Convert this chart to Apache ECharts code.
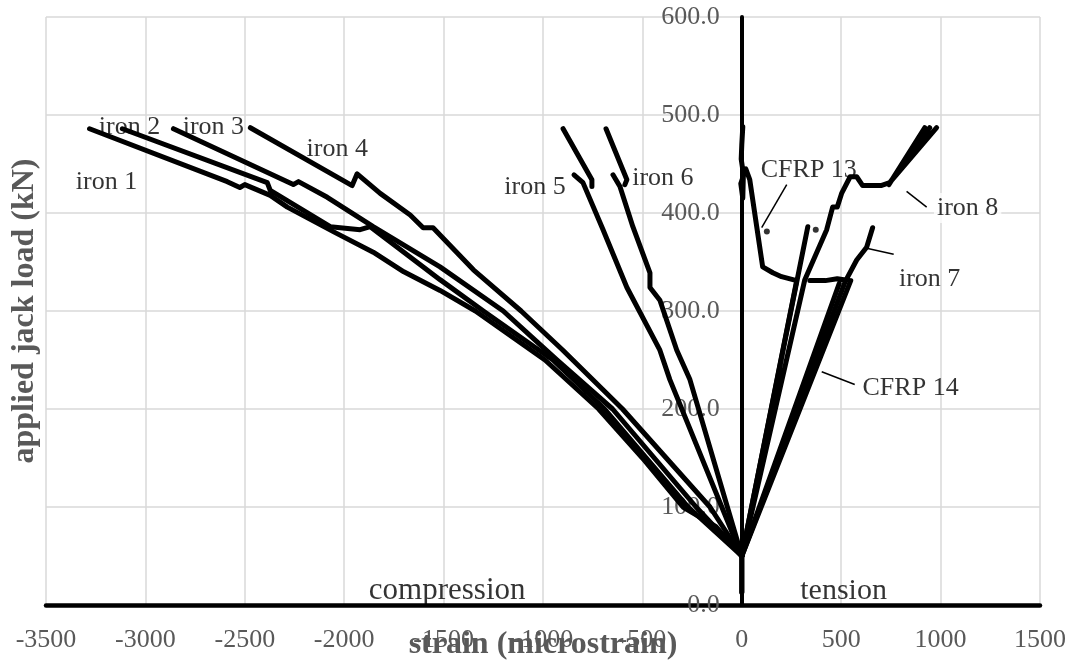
<!DOCTYPE html>
<html>
<head>
<meta charset="utf-8">
<script src="https://cdn.jsdelivr.net/npm/echarts@6/dist/echarts.min.js"></script>
<style>
  html, body { margin: 0; padding: 0; background: #fff; }
  #chart { width: 1075px; height: 668px; }
</style>
</head>
<body>
<div id="chart"></div>
<script>
// strain (microstrain) vs applied jack load (kN)
const GAP = ['-', '-']

const iron1 = [[0, 13], [0, 50], [-130, 80], [-296, 100], [-500, 150], [-720, 200], [-990, 250], [-1340, 300],
  [-1518, 321], [-1700, 340], [-1854, 360], [-2055, 381], [-2286, 406], [-2372, 418], [-2500, 429],
  [-2525, 426], [-2588, 432], [-3281, 486]]
const iron2 = [[0, 50], [-270, 100], [-690, 200], [-950, 250], [-1300, 300], [-1518, 332], [-1700, 360],
  [-1869, 386], [-1920, 383], [-2070, 386], [-2372, 423], [-2387, 431], [-3116, 486]]
const iron3 = [[0, 50], [-230, 100], [-650, 200], [-930, 250], [-1200, 300], [-1518, 345], [-1854, 386],
  [-2085, 416], [-2230, 432], [-2256, 429], [-2859, 486]]
const iron4 = [[0, 50], [-160, 100], [-600, 200], [-900, 260], [-1110, 300], [-1350, 342], [-1553, 385],
  [-1603, 385], [-1668, 398], [-1819, 420], [-1935, 440], [-1960, 428], [-2472, 487]]
const iron5 = [[0, 50], [-362, 230], [-412, 260], [-578, 324], [-700, 384], [-799, 431], [-844, 439], GAP,
  [-754, 427], [-754, 434], [-899, 486]]
const iron6 = [[0, 50], [-261, 230], [-327, 260], [-412, 311], [-462, 324], [-462, 339], [-548, 386],
  [-613, 427], [-648, 439], GAP, [-588, 429], [-578, 434], [-683, 486]]
const iron7 = [[0, 50], [520, 330], [578, 352], [628, 365], [658, 385]]
const iron8 = [[0, 50], [332, 386], GAP, [0, 50], [317, 332], [427, 383], [457, 406], [480, 406], [502, 420],
  [545, 437], [578, 437], [608, 428], [700, 428], [744, 431], [980, 487], GAP, [744, 431], [945, 487],
  GAP, [740, 429], [920, 487]]
const cfrp13 = [[0, 13], [0, 30], [0, 50], [276, 331], [200, 335], [156, 339], [105, 345], [75, 386],
  [40, 434], [20, 445], [-5, 430], [5, 415], [8, 440], [-3, 455], [0, 470], [5, 488]]
const cfrp14 = [[0, 50], [490, 328], GAP, [0, 50], [548, 331], [480, 333], [420, 331], [342, 331]]
const strayPoints = [[126, 381], [372, 383]]

const curveNames = ['iron 1', 'iron 2', 'iron 3', 'iron 4', 'iron 5', 'iron 6', 'iron 7', 'iron 8', 'CFRP 13', 'CFRP 14']
const curves = [iron1, iron2, iron3, iron4, iron5, iron6, iron7, iron8, cfrp13, cfrp14]

// text notes on the plot (data coordinates)
const noteText = ['iron 1', 'iron 2', 'iron 3', 'iron 4', 'iron 5', 'iron 6', 'CFRP 13', 'iron 8', 'iron 7', 'CFRP 14', 'compression', 'tension']
const notePos = [[-3196, 431], [-3080, 488], [-2658, 488], [-2035, 465], [-1040, 426], [-397, 436],
  [337, 444], [1136, 405], [945, 332], [849, 221], [-1482, 14], [512, 14]]
const leaders = [
  [[226, 429], [100, 385]],
  [[829, 422], [930, 406]],
  [[628, 364], [764, 358]],
  [[402, 238], [568, 225]]
]

const serif = "'Times New Roman', 'Liberation Serif', serif"
const gridLeft = 46
const chart = echarts.init(document.getElementById('chart'))

const series = curves.map((d, i) => ({
  type: 'line',
  name: curveNames[i],
  data: d,
  symbol: 'none',
  silent: true,
  z: 3,
  lineStyle: { color: '#000', width: 5, cap: 'round', join: 'round' }
}))

series.push({
  type: 'scatter',
  name: 'points',
  data: strayPoints,
  symbolSize: 6,
  silent: true,
  z: 3,
  itemStyle: { color: '#000' }
})

series.push({
  type: 'scatter',
  name: 'notes',
  silent: true,
  z: 1,
  symbolSize: 1,
  itemStyle: { color: 'rgba(0,0,0,0)' },
  data: noteText.map((t, i) => {
    let item = { name: t, value: notePos[i] }
    if (t === 'iron 8') item.label = { backgroundColor: '#fff', padding: [2, 3] }
    if (t === 'compression') item.label = { fontSize: 31 }
    if (t === 'tension') item.label = { fontSize: 30 }
    return item
  }),
  label: {
    show: true,
    position: 'inside',
    formatter: '{b}',
    color: '#000',
    fontSize: 26,
    fontFamily: serif
  },
  markLine: {
    silent: true,
    symbol: 'none',
    animation: false,
    label: { show: false },
    lineStyle: { color: '#000', width: 1.5, type: 'solid' },
    data: leaders.map(l => [{ coord: l[0] }, { coord: l[1] }])
  }
})

const option = {
  animation: false,
  backgroundColor: '#fff',
  grid: { left: gridLeft, right: 35, top: 17, bottom: 63, containLabel: false, outerBoundsMode: 'none' },
  xAxis: {
    type: 'value',
    min: -3500,
    max: 1500,
    interval: 500,
    axisLine: { onZero: true, lineStyle: { color: '#000', width: 4.5 } },
    axisTick: { show: false },
    axisLabel: { formatter: v => String(v), color: '#595959', fontSize: 26, fontFamily: serif, margin: 22 },
    splitLine: { show: true, lineStyle: { color: '#d9d9d9', width: 1.5 } },
    name: 'strain (microstrain)',
    nameLocation: 'middle',
    nameGap: 24,
    nameMoveOverlap: false,
    nameTextStyle: { color: '#595959', fontSize: 32, fontWeight: 'bold', fontFamily: serif }
  },
  yAxis: [{
    type: 'value',
    min: 0,
    max: 600,
    interval: 100,
    axisLine: { show: true, onZero: false, lineStyle: { color: '#000', width: 4 } },
    axisTick: { show: false },
    axisLabel: { formatter: v => v.toFixed(1), color: '#595959', fontSize: 26, fontFamily: serif, margin: 22 },
    splitLine: { show: true, lineStyle: { color: '#d9d9d9', width: 1.5 } }
  }, {
    type: 'value',
    min: 0,
    max: 600,
    position: 'left',
    axisLine: { show: false, onZero: false },
    axisTick: { show: false },
    axisLabel: { show: false },
    splitLine: { show: false },
    name: 'applied jack load (kN)',
    nameLocation: 'middle',
    nameGap: 5,
    nameMoveOverlap: false,
    nameTextStyle: { color: '#595959', fontSize: 32, fontWeight: 'bold', fontFamily: serif }
  }],
  series: series
}

chart.setOption(option)
// put the load axis (line and its labels) on zero strain
const zeroX = chart.convertToPixel({ xAxisIndex: 0 }, 0)
chart.setOption({ yAxis: [{ offset: gridLeft - zeroX }] })
</script>
</body>
</html>
